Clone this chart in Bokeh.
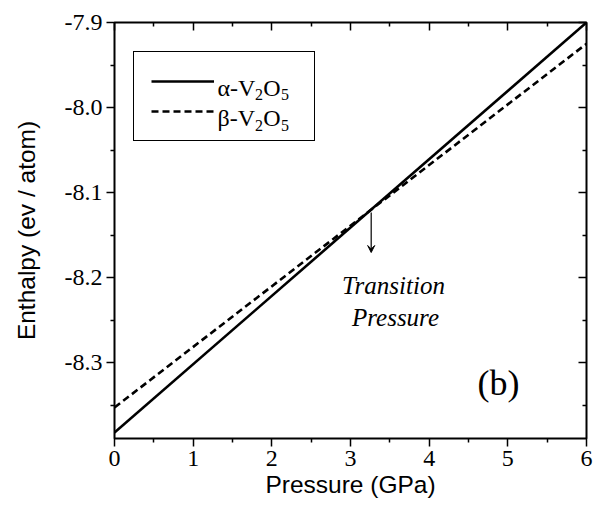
from bokeh.plotting import figure
from bokeh.models import (Range1d, FixedTicker, PrintfTickFormatter, LinearAxis,
                          Legend, LegendItem, Label, Arrow, VeeHead)
from bokeh.embed import file_html
from bokeh.resources import INLINE

# ---- data ----
pressure = [0.0, 6.0]
alpha_h = [-8.382, -7.900]
beta_h = [-8.3526, -7.925]
x_ticks = [0, 1, 2, 3, 4, 5, 6]
y_ticks = [-8.3, -8.2, -8.1, -8.0, -7.9]
x_minor = [0.5, 1.5, 2.5, 3.5, 4.5, 5.5]
y_minor = [-8.35, -8.25, -8.15, -8.05, -7.95]
transition_p = 3.263
series_names = [("α-V", "2", "O", "5"), ("β-V", "2", "O", "5")]

X0, X1, Y0, Y1 = 0.0, 6.0, -8.389, -7.9
FL, FR, FT, FB = 114, 586, 22, 438   # frame pixel box


def px2x(px):
    return X0 + (px - FL) * (X1 - X0) / (FR - FL)


def px2y(py):
    return Y1 - (py - FT) * (Y1 - Y0) / (FB - FT)


p = figure(width=595, height=508, output_backend="svg", toolbar_location=None,
           x_range=Range1d(X0, X1), y_range=Range1d(Y0, Y1),
           min_border_left=FL, min_border_right=595 - FR, min_border_top=FT,
           min_border_bottom=508 - FB)
p.background_fill_color = "white"
p.border_fill_color = "white"
p.grid.visible = False
p.outline_line_color = "black"
p.outline_line_width = 2

r_a = p.line(pressure, alpha_h, line_color="black", line_width=2.6)
r_b = p.line(pressure, beta_h, line_color="black", line_width=2.6, line_dash="7 4")

xb = p.xaxis[0]
yl = p.yaxis[0]
xb.ticker = FixedTicker(ticks=x_ticks, minor_ticks=x_minor)
yl.ticker = FixedTicker(ticks=y_ticks, minor_ticks=y_minor)
for ax in (xb, yl):
    ax.axis_line_color = None
    ax.major_tick_line_color = "black"
    ax.minor_tick_line_color = "black"
    ax.major_tick_line_width = 1.5
    ax.minor_tick_line_width = 1.5
    ax.major_tick_out, ax.major_tick_in = 8, 0
    ax.minor_tick_out, ax.minor_tick_in = 4, 0
    ax.major_label_text_font = "Liberation Serif"
    ax.major_label_text_font_size = "24px"
    ax.major_label_text_color = "black"
    ax.axis_label_text_font = "Liberation Sans"
    ax.axis_label_text_font_style = "normal"
    ax.axis_label_text_font_size = "24.5px"
    ax.axis_label_text_color = "black"
xb.major_label_standoff = 4
yl.major_label_standoff = 4
xb.formatter = PrintfTickFormatter(format="%d")
yl.formatter = PrintfTickFormatter(format="%.1f")
xb.axis_label = "Pressure (GPa)"
yl.axis_label = "Enthalpy (ev / atom)"
xb.axis_label_standoff = 2
yl.axis_label_standoff = 22

for loc in ("above", "right"):
    ax = LinearAxis()
    if loc == "above":
        ax.ticker = FixedTicker(ticks=x_ticks, minor_ticks=x_minor)
    else:
        ax.ticker = FixedTicker(ticks=y_ticks, minor_ticks=y_minor)
    ax.axis_line_color = None
    ax.major_tick_line_color = "black"
    ax.minor_tick_line_color = "black"
    ax.major_tick_line_width = 1.5
    ax.minor_tick_line_width = 1.5
    ax.major_tick_out, ax.major_tick_in = 0, 8
    ax.minor_tick_out, ax.minor_tick_in = 0, 4
    ax.major_label_text_font_size = "1px"
    ax.major_label_text_alpha = 0
    ax.major_label_standoff = 0
    p.add_layout(ax, loc)

legend = Legend(items=[LegendItem(label=" ", renderers=[r_a]),
                       LegendItem(label=" ", renderers=[r_b])],
                location=(19, 297))
legend.label_text_font = "Liberation Serif"
legend.label_text_font_size = "21px"
legend.label_text_color = "black"
legend.border_line_color = "black"
legend.border_line_alpha = 1.0
legend.border_line_width = 1.5
legend.background_fill_alpha = 0.0
legend.padding = 17
legend.spacing = 6
legend.glyph_width = 63
legend.glyph_height = 24
legend.label_height = 24
legend.label_width = 79
legend.label_standoff = 4
legend.margin = 0
p.add_layout(legend)

# legend texts with real subscripts (pieces of text)
row_base = [87.0, 117.5]
for (head, s1, mid, s2), base in zip(series_names, row_base):
    x = 217.0
    pieces = [(head, 24, 0, 37.5), (s1, 16, 7, 8.2), (mid, 24, 0, 17.8), (s2, 16, 7, 8)]
    for txt, size, drop, w in pieces:
        p.add_layout(Label(x=px2x(x), y=px2y(base + drop), text=txt,
                           text_font="Liberation Serif", text_font_size=f"{size}px",
                           text_align="left", text_baseline="alphabetic",
                           text_color="black"))
        x += w

p.add_layout(Arrow(end=VeeHead(size=7, line_color="black", fill_color="black", line_width=1),
                   x_start=transition_p, y_start=px2y(212), x_end=transition_p, y_end=px2y(252),
                   line_color="black", line_width=1.2))

for txt, cx, base in (("Transition", 393, 285), ("Pressure", 395, 317)):
    p.add_layout(Label(x=px2x(cx), y=px2y(base), text=txt, text_font="Liberation Serif",
                       text_font_style="italic", text_font_size="25px",
                       text_align="center", text_baseline="alphabetic", text_color="black"))

p.add_layout(Label(x=px2x(477), y=px2y(382), text="(b)", text_font="Liberation Serif",
                   text_font_size="36px", text_align="left", text_baseline="alphabetic",
                   text_color="black"))

open("out.html", "w").write(file_html(p, INLINE))
